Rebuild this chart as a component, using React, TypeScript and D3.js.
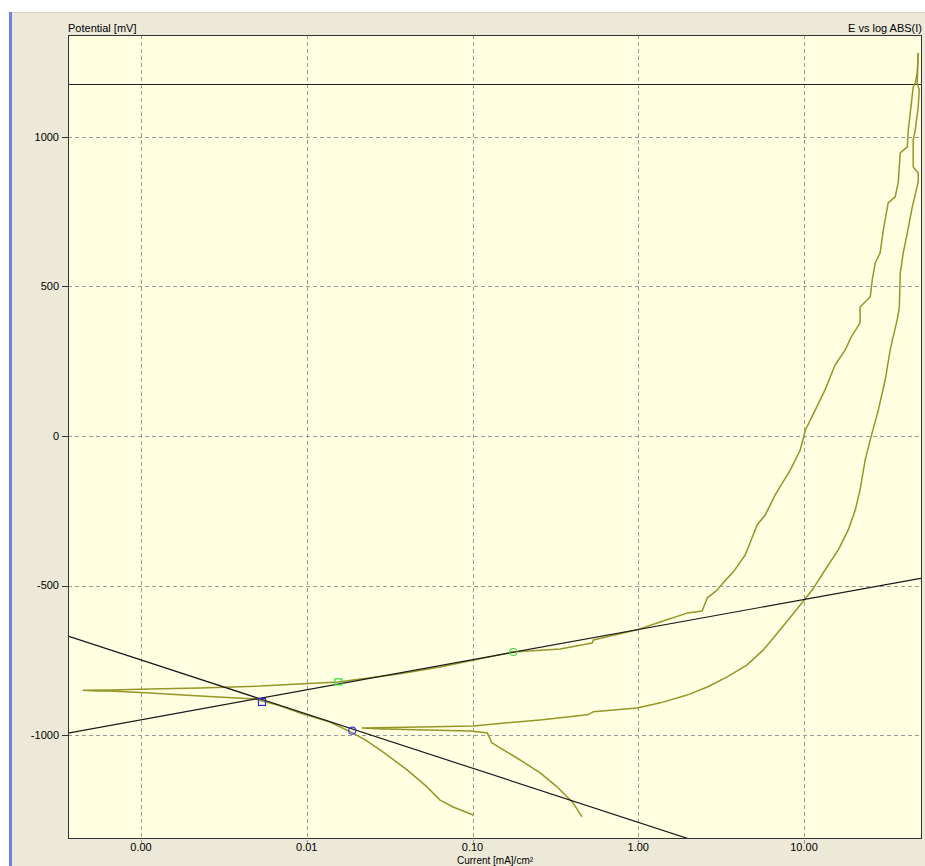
import React from "react";
import * as d3 from "d3";

// ---------- data ----------
const xTickValues = [0.001, 0.01, 0.1, 1, 10];
const yTickValues = [-1000, -500, 0, 500, 1000];

// forward scan: current [mA/cm2], potential [mV]
const forwardCurrent = [
  0.101, 0.0764, 0.0637, 0.0532, 0.0403, 0.0277, 0.0225, 0.019, 0.0138, 0.00912,
  0.0069, 0.00488, 0.00227, 0.00113, 0.00065, 0.000542, 0.000447, 0.00065, 0.00113, 0.00227,
  0.00522, 0.0155, 0.0366, 0.0637, 0.111, 0.176, 0.338, 0.527, 0.535, 0.984,
  1.355, 1.972, 2.43, 2.61, 2.99, 3.25, 3.74, 4.42, 5.22, 5.84,
  6.7, 8.26, 9.49, 10.2, 11.7, 13.4, 15.4, 17.7, 19.3, 21.8,
  21.8, 25.1, 25.8, 26.9, 28.8, 30.1, 32.2, 35.5, 37.0, 38.1,
  42.0, 42.6, 45.6, 46.9, 48.2, 48.9,
];
const forwardPotential = [
  -1267, -1240, -1217, -1173, -1116, -1049, -1016, -993, -956, -926,
  -902, -879, -869, -859, -852, -852, -850, -849, -846, -842,
  -836, -822, -795, -772, -745, -722, -712, -692, -682, -648,
  -622, -592, -585, -541, -515, -491, -455, -398, -297, -264,
  -197, -114, -47, 20, 87, 154, 237, 287, 331, 378,
  431, 465, 521, 578, 612, 688, 779, 799, 846, 946,
  966, 1023, 1166, 1180, 1213, 1280,
];

// reverse scan
const reverseCurrent = [
  48.9, 48.2, 49.6, 48.9, 46.9, 45.6, 45.6, 48.9, 48.9, 45.0,
  42.0, 39.7, 38.1, 37.6, 36.5, 34.5, 33.1, 30.9, 28.1, 25.1,
  23.4, 21.8, 20.4, 18.5, 16.1, 13.4, 11.2, 9.49, 7.18, 5.68,
  4.54, 3.44, 2.61, 1.97, 1.36, 0.984, 0.535, 0.492, 0.338, 0.256,
  0.101, 0.0483, 0.0216, 0.0289, 0.0968, 0.123, 0.131, 0.194, 0.256, 0.324,
  0.405, 0.458,
];
const reversePotential = [
  1280, 1180, 1156, 1100, 1023, 989, 899, 879, 849, 765,
  678, 612, 545, 431, 388, 331, 287, 187, 87, -13,
  -80, -180, -247, -314, -381, -448, -515, -565, -648, -715,
  -765, -805, -839, -866, -892, -909, -922, -932, -942, -949,
  -969, -973, -976, -979, -986, -993, -1026, -1083, -1126, -1173,
  -1227, -1273,
];

// Tafel fit lines (two end points each)
const anodicTafelCurrent = [0.000363, 51.5];
const anodicTafelPotential = [-993, -475];
const cathodicTafelCurrent = [0.000363, 51.5];
const cathodicTafelPotential = [-669, -1601];

// fit markers
const blueMarkerCurrent = [0.00537, 0.0188];
const blueMarkerPotential = [-889, -985];
const greenMarkerCurrent = [0.0155, 0.176];
const greenMarkerPotential = [-822, -722];

const limitPotential = 1176;

const xDomainLog = [-3.4406, 1.712];
const yDomain = [-1347, 1340];

// ---------- layout ----------
const W = 925;
const H = 866;
const left = 68;
const right = 922;
const top = 35;
const bottom = 839;

export default function App() {
  const x = d3.scaleLog().domain([Math.pow(10, xDomainLog[0]), Math.pow(10, xDomainLog[1])]).range([left, right]);
  const y = d3.scaleLinear().domain(yDomain).range([bottom, top]);

  const line = d3
    .line<[number, number]>()
    .x((d) => x(d[0]))
    .y((d) => y(d[1]));

  const fwd = forwardCurrent.map((c, i) => [c, forwardPotential[i]] as [number, number]);
  const rev = reverseCurrent.map((c, i) => [c, reversePotential[i]] as [number, number]);
  const an = anodicTafelCurrent.map((c, i) => [c, anodicTafelPotential[i]] as [number, number]);
  const ca = cathodicTafelCurrent.map((c, i) => [c, cathodicTafelPotential[i]] as [number, number]);

  const font = "'Liberation Sans', Arial, sans-serif";
  const curveColor = "#969628";

  return (
    <svg
      width={W}
      height={H}
      style={{ position: "absolute", left: 0, top: 0, display: "block" }}
      fontFamily={font}
    >
      <defs>
        <clipPath id="plotClip">
          <rect x={left} y={top} width={right - left} height={bottom - top} />
        </clipPath>
      </defs>
      <rect x={0} y={0} width={W} height={H} fill="#ffffff" />
      <rect x={9} y={12} width={W - 9} height={H - 12} fill="#ECE9D8" />
      <line x1={9} x2={W} y1={12.5} y2={12.5} stroke="#d8d4c4" />
      <rect x={9} y={12} width={3} height={H - 12} fill="#6f82e2" />

      {/* plot background */}
      <rect x={left} y={top} width={right - left} height={bottom - top} fill="#FFFFE2" />

      {/* grid */}
      {xTickValues.map((t) => (
        <line
          key={"gx" + t}
          x1={Math.round(x(t)) + 0.5}
          x2={Math.round(x(t)) + 0.5}
          y1={top}
          y2={bottom + 6}
          stroke="#9a9a9a"
          strokeDasharray="4,3"
        />
      ))}
      {yTickValues.map((t) => (
        <line
          key={"gy" + t}
          x1={left}
          x2={right}
          y1={Math.round(y(t)) + 0.5}
          y2={Math.round(y(t)) + 0.5}
          stroke="#9a9a9a"
          strokeDasharray="4,3"
        />
      ))}

      {/* y ticks */}
      {yTickValues.map((t) => (
        <g key={"ty" + t}>
          <line x1={62} x2={left} y1={Math.round(y(t)) + 0.5} y2={Math.round(y(t)) + 0.5} stroke="#333" />
          <text x={59} y={y(t)} dy="0.35em" textAnchor="end" fontSize={11} fill="#000">
            {t}
          </text>
        </g>
      ))}

      {/* x ticks labels */}
      {xTickValues.map((t) => (
        <text key={"tx" + t} x={x(t)} y={851} textAnchor="middle" fontSize={11} fill="#000">
          {t.toFixed(2)}
        </text>
      ))}

      <g clipPath="url(#plotClip)">
        <line x1={left} x2={right} y1={Math.round(y(limitPotential)) + 0.5} y2={Math.round(y(limitPotential)) + 0.5} stroke="#222" strokeWidth={1} />
        <path d={line(fwd) || ""} fill="none" stroke={curveColor} strokeWidth={1.5} strokeLinejoin="round" />
        <path d={line(rev) || ""} fill="none" stroke={curveColor} strokeWidth={1.5} strokeLinejoin="round" />
        <path d={line(an) || ""} fill="none" stroke="#1a1a1a" strokeWidth={1.2} />
        <path d={line(ca) || ""} fill="none" stroke="#1a1a1a" strokeWidth={1.2} />

        {/* markers */}
        <rect
          x={x(blueMarkerCurrent[0]) - 3.5}
          y={y(blueMarkerPotential[0]) - 3.5}
          width={7}
          height={7}
          fill="none"
          stroke="#2626e6"
          strokeWidth={1.2}
        />
        <circle cx={x(blueMarkerCurrent[1])} cy={y(blueMarkerPotential[1])} r={3.5} fill="none" stroke="#3a3ae6" strokeWidth={1.2} />
        <rect
          x={x(greenMarkerCurrent[0]) - 3.5}
          y={y(greenMarkerPotential[0]) - 3}
          width={7}
          height={6}
          fill="none"
          stroke="#33dd33"
          strokeWidth={1.2}
        />
        <circle cx={x(greenMarkerCurrent[1])} cy={y(greenMarkerPotential[1])} r={3.5} fill="none" stroke="#44dd44" strokeWidth={1.2} />
      </g>

      {/* frame */}
      <rect x={left + 0.5} y={top + 0.5} width={right - left - 1} height={bottom - top - 1} fill="none" stroke="#333" />

      {/* titles */}
      <text x={left} y={32} fontSize={11} fill="#000">
        Potential [mV]
      </text>
      <text x={right} y={32} fontSize={11} textAnchor="end" fill="#000">
        E vs log ABS(I)
      </text>
      <text x={(left + right) / 2} y={864} fontSize={10} textAnchor="middle" fill="#000">
        Current [mA]/cm²
      </text>
    </svg>
  );
}
